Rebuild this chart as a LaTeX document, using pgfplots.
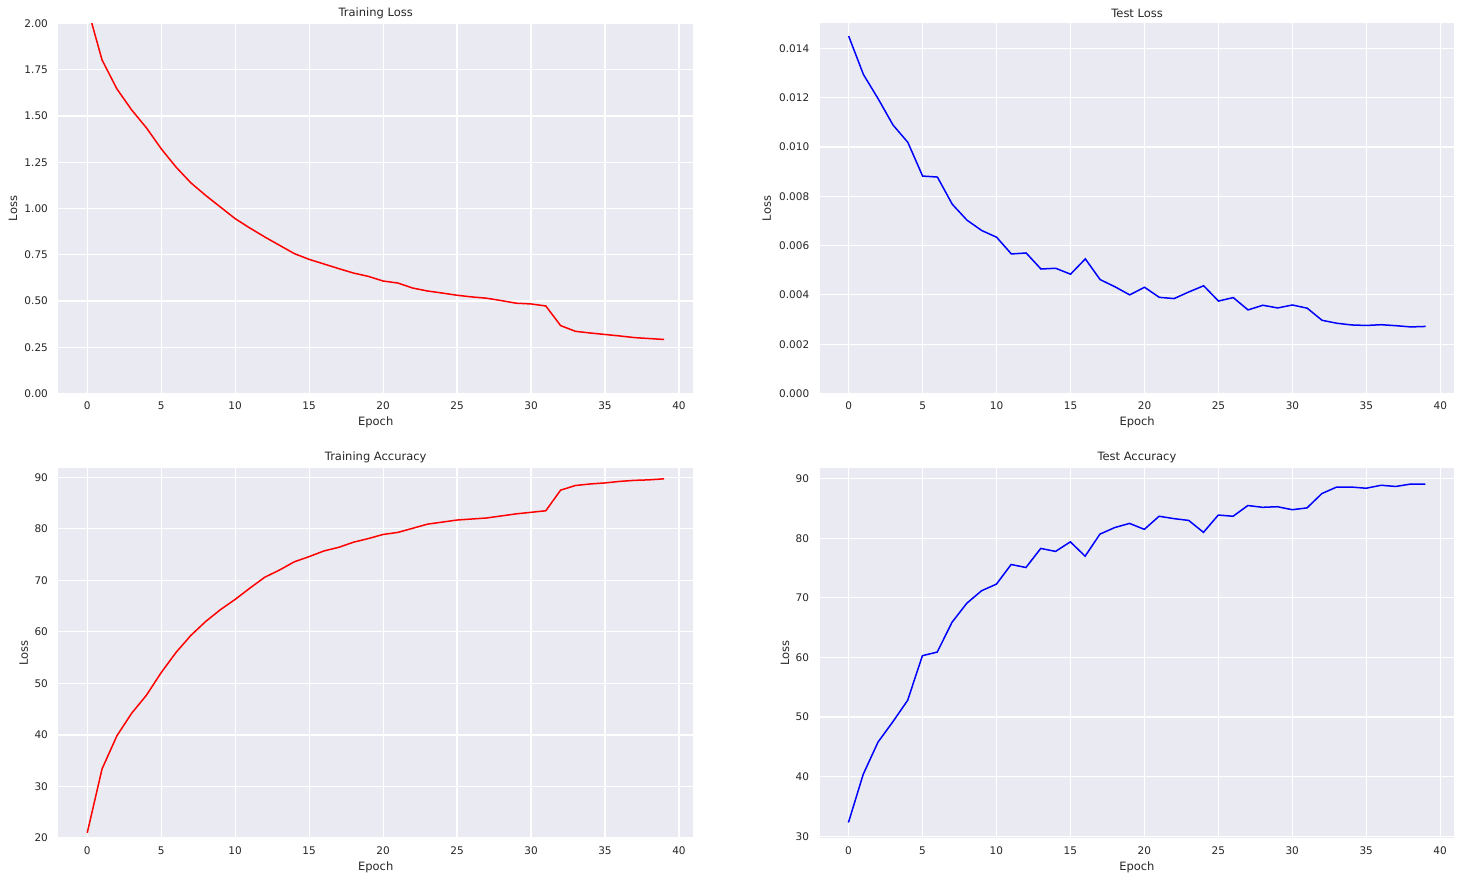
\documentclass[border=0pt]{standalone}
\usepackage{fontspec}
\setmainfont{DejaVu Sans}
\usepackage{pgfplots}
\pgfplotsset{compat=1.18}
\usepackage{pgfplotstable}
\definecolor{bgc}{HTML}{EAEAF2}
\definecolor{tc}{HTML}{262626}

\pgfplotstableread{
x trl tel tra tea
0 2.09 0.01450 21.0 32.3
1 1.803 0.01294 33.4 40.4
2 1.647 0.01195 39.8 45.8
3 1.533 0.01089 44.2 49.2
4 1.436 0.01019 47.7 52.8
5 1.323 0.00882 52.1 60.3
6 1.224 0.00878 56.0 60.9
7 1.139 0.00768 59.3 65.9
8 1.071 0.00703 62.0 69.1
9 1.008 0.00661 64.3 71.2
10 0.945 0.00634 66.3 72.3
11 0.894 0.00566 68.5 75.6
12 0.846 0.00570 70.6 75.1
13 0.801 0.00505 72.0 78.3
14 0.756 0.00508 73.6 77.8
15 0.725 0.00484 74.6 79.4
16 0.700 0.00546 75.7 77.0
17 0.675 0.00462 76.4 80.7
18 0.651 0.00433 77.4 81.8
19 0.633 0.00400 78.1 82.5
20 0.608 0.00431 78.9 81.5
21 0.597 0.00390 79.3 83.7
22 0.570 0.00385 80.1 83.3
23 0.554 0.00412 80.9 83.0
24 0.543 0.00437 81.3 81.0
25 0.531 0.00375 81.7 83.9
26 0.522 0.00389 81.9 83.7
27 0.515 0.00339 82.1 85.5
28 0.502 0.00358 82.5 85.2
29 0.488 0.00347 82.9 85.3
30 0.484 0.00359 83.2 84.8
31 0.473 0.00346 83.5 85.1
32 0.367 0.00297 87.5 87.5
33 0.336 0.00285 88.4 88.6
34 0.327 0.00278 88.7 88.6
35 0.319 0.00276 88.9 88.4
36 0.311 0.00279 89.2 88.9
37 0.302 0.00275 89.4 88.7
38 0.297 0.00270 89.5 89.1
39 0.292 0.00272 89.7 89.1
}\data

\pgfplotsset{
  sns/.style={
    scale only axis,
    width=634.6pt, height=370pt,
    axis background/.style={fill=bgc},
    axis line style={draw=none},
    major tick length=0pt,
    grid=major,
    major grid style={white, line width=1.2pt},
    tick label style={font=\fontsize{10.5}{12}\selectfont, text=tc},
    /pgf/number format/assume math mode=true,
    xmin=-1.95, xmax=40.95,
    xtick={0,5,...,40},
    xticklabel style={yshift=-5pt},
    yticklabel style={xshift=-7pt},
    every axis x label/.style={at={(rel axis cs:0.5,0)}, anchor=center, yshift=-29pt, font=\fontsize{11.5}{13}\selectfont, text=tc},
    every axis title/.style={at={(rel axis cs:0.5,1)}, anchor=center, yshift=10.5pt, font=\fontsize{11.5}{13}\selectfont, text=tc},
    xlabel={Epoch}, ylabel={Loss},
  },
  ylab/.style={every axis y label/.style={at={(rel axis cs:#1,0.5)}, anchor=center, rotate=90, font=\fontsize{11.5}{13}\selectfont, text=tc}},
}

\begin{document}
\begin{tikzpicture}
\useasboundingbox (0,0) rectangle (1460pt,882pt);

\begin{axis}[sns, at={(58.4pt,488.5pt)}, anchor=south west, ylab=-0.0717,
  title={Training Loss}, ymin=0, ymax=2.0, ytick={0,0.25,...,2.0},
  yticklabel style={/pgf/number format/.cd, fixed, fixed zerofill, precision=2}]
\addplot[red, line width=1.5pt] table[x=x, y=trl] {\data};
\end{axis}

\begin{axis}[sns, at={(819.8pt,488.5pt)}, anchor=south west, ylab=-0.0835,
  title={Test Loss}, ymin=0, ymax=0.01501, ytick={0,0.002,...,0.0141},
  scaled y ticks=false,
  yticklabel style={/pgf/number format/.cd, fixed, fixed zerofill, precision=3}]
\addplot[blue, line width=1.5pt] table[x=x, y=tel] {\data};
\end{axis}

\begin{axis}[sns, at={(58.4pt,44pt)}, anchor=south west, ylab=-0.0544,
  title={Training Accuracy}, ymin=20, ymax=91.8, ytick={20,30,...,90}]
\addplot[red, line width=1.5pt] table[x=x, y=tra] {\data};
\end{axis}

\begin{axis}[sns, at={(819.6pt,44pt)}, anchor=south west, ylab=-0.0544,
  title={Test Accuracy}, ymin=29.7, ymax=91.8, ytick={30,40,...,90}]
\addplot[blue, line width=1.5pt] table[x=x, y=tea] {\data};
\end{axis}
\end{tikzpicture}
\end{document}
